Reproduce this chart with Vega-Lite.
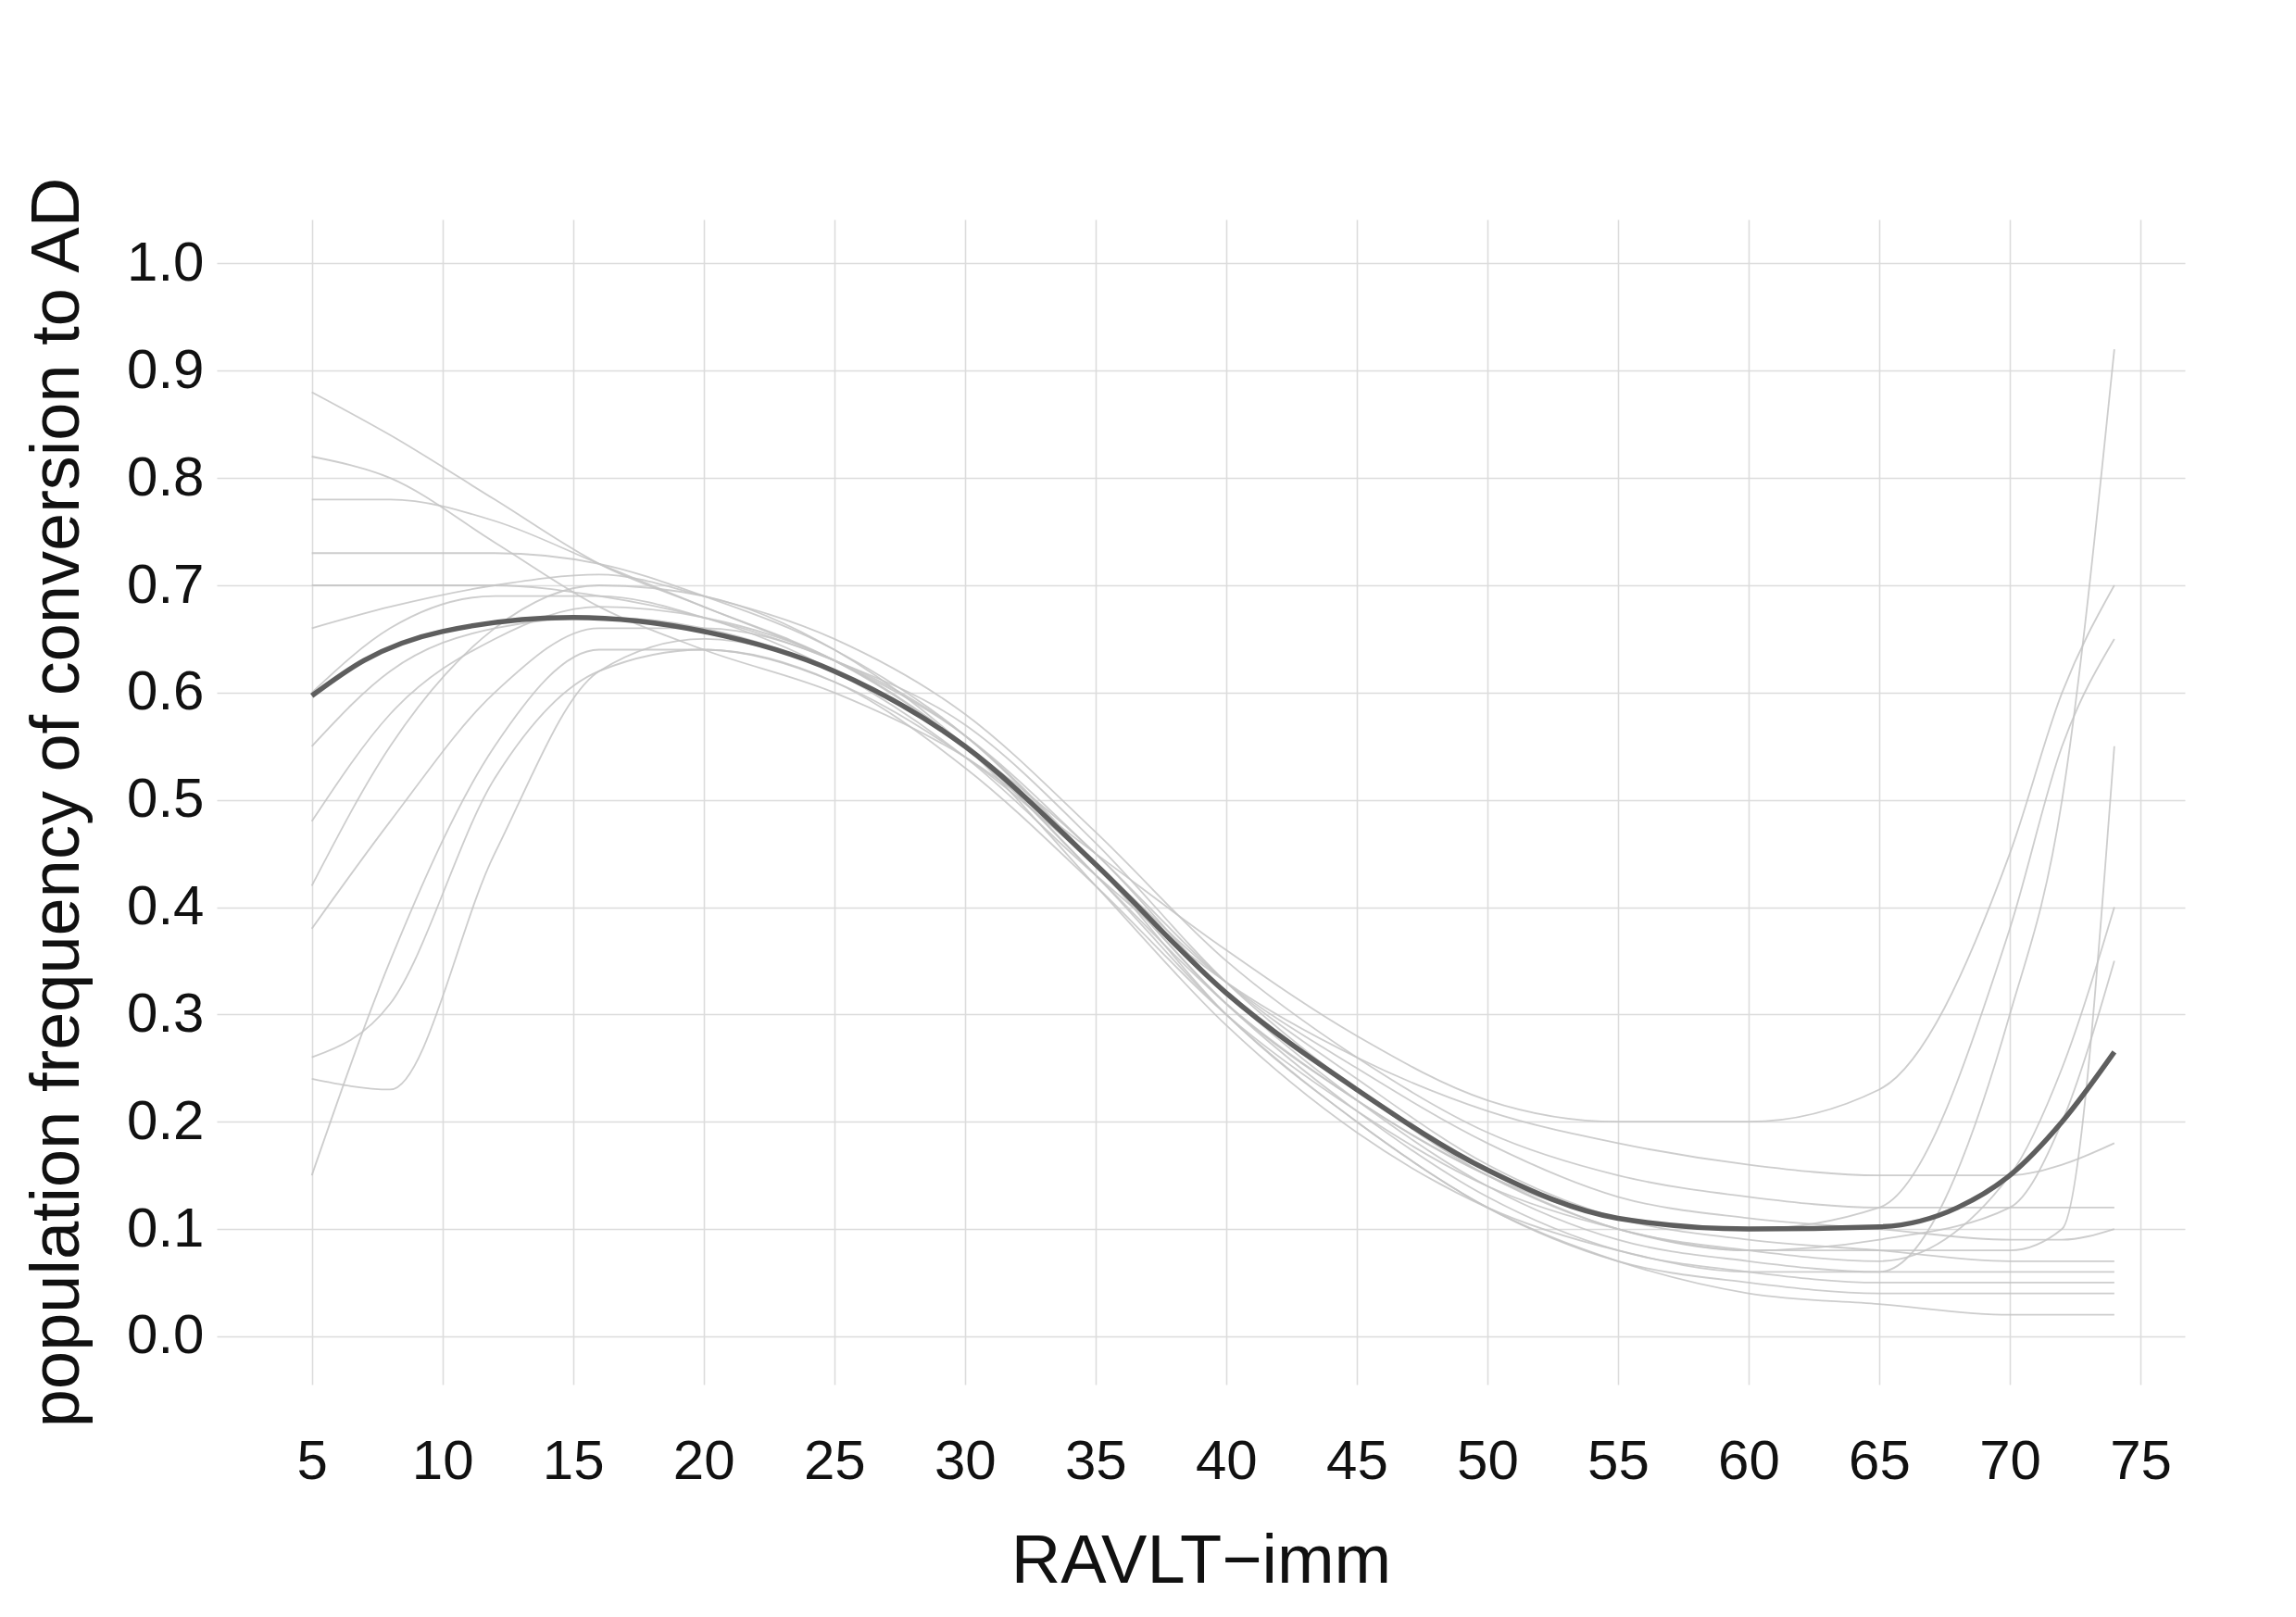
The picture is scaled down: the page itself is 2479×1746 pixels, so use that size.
{
  "$schema": "https://vega.github.io/schema/vega-lite/v6.json",
  "width": 2125,
  "height": 1258,
  "autosize": "none",
  "padding": {"left": 234, "top": 237, "right": 120, "bottom": 251},
  "background": "white",
  "config": {
    "view": {"stroke": null},
    "axis": {"gridColor": "#dcdcdc", "gridWidth": 1.6, "domain": false, "ticks": false, "labelFont": "Liberation Sans", "titleFont": "Liberation Sans", "labelFontSize": 60, "titleFontSize": 74, "labelColor": "#111111", "titleColor": "#111111", "titleFontWeight": "normal"}
  },
  "datasets": {
    "boot": [
      {"c":1,"x":5,"y":0.88},{"c":1,"x":8,"y":0.84},{"c":1,"x":12,"y":0.78},{"c":1,"x":16,"y":0.72},{"c":1,"x":20,"y":0.68},{"c":1,"x":25,"y":0.63},{"c":1,"x":30,"y":0.56},{"c":1,"x":35,"y":0.45},{"c":1,"x":40,"y":0.33},{"c":1,"x":45,"y":0.24},{"c":1,"x":50,"y":0.16},{"c":1,"x":55,"y":0.11},{"c":1,"x":60,"y":0.09},{"c":1,"x":65,"y":0.08},{"c":1,"x":70,"y":0.07},{"c":1,"x":72,"y":0.07},{"c":1,"x":74,"y":0.07},
      {"c":2,"x":5,"y":0.15},{"c":2,"x":8,"y":0.35},{"c":2,"x":12,"y":0.55},{"c":2,"x":16,"y":0.64},{"c":2,"x":20,"y":0.64},{"c":2,"x":25,"y":0.61},{"c":2,"x":30,"y":0.54},{"c":2,"x":35,"y":0.44},{"c":2,"x":40,"y":0.33},{"c":2,"x":45,"y":0.25},{"c":2,"x":50,"y":0.18},{"c":2,"x":55,"y":0.13},{"c":2,"x":60,"y":0.11},{"c":2,"x":65,"y":0.10},{"c":2,"x":70,"y":0.09},{"c":2,"x":72,"y":0.09},{"c":2,"x":74,"y":0.10},
      {"c":3,"x":5,"y":0.24},{"c":3,"x":8,"y":0.23},{"c":3,"x":12,"y":0.45},{"c":3,"x":16,"y":0.62},{"c":3,"x":20,"y":0.65},{"c":3,"x":25,"y":0.62},{"c":3,"x":30,"y":0.55},{"c":3,"x":35,"y":0.45},{"c":3,"x":40,"y":0.32},{"c":3,"x":45,"y":0.22},{"c":3,"x":50,"y":0.14},{"c":3,"x":55,"y":0.09},{"c":3,"x":60,"y":0.07},{"c":3,"x":65,"y":0.06},{"c":3,"x":70,"y":0.06},{"c":3,"x":72,"y":0.06},{"c":3,"x":74,"y":0.06},
      {"c":4,"x":5,"y":0.73},{"c":4,"x":8,"y":0.73},{"c":4,"x":12,"y":0.73},{"c":4,"x":16,"y":0.72},{"c":4,"x":20,"y":0.69},{"c":4,"x":25,"y":0.64},{"c":4,"x":30,"y":0.56},{"c":4,"x":35,"y":0.44},{"c":4,"x":40,"y":0.31},{"c":4,"x":45,"y":0.21},{"c":4,"x":50,"y":0.13},{"c":4,"x":55,"y":0.08},{"c":4,"x":60,"y":0.06},{"c":4,"x":65,"y":0.05},{"c":4,"x":70,"y":0.05},{"c":4,"x":72,"y":0.05},{"c":4,"x":74,"y":0.05},
      {"c":5,"x":5,"y":0.42},{"c":5,"x":8,"y":0.55},{"c":5,"x":12,"y":0.66},{"c":5,"x":16,"y":0.70},{"c":5,"x":20,"y":0.69},{"c":5,"x":25,"y":0.64},{"c":5,"x":30,"y":0.55},{"c":5,"x":35,"y":0.42},{"c":5,"x":40,"y":0.29},{"c":5,"x":45,"y":0.19},{"c":5,"x":50,"y":0.12},{"c":5,"x":55,"y":0.08},{"c":5,"x":60,"y":0.06},{"c":5,"x":65,"y":0.06},{"c":5,"x":70,"y":0.30},{"c":5,"x":72,"y":0.50},{"c":5,"x":74,"y":0.92},
      {"c":6,"x":5,"y":0.60},{"c":6,"x":8,"y":0.66},{"c":6,"x":12,"y":0.69},{"c":6,"x":16,"y":0.69},{"c":6,"x":20,"y":0.67},{"c":6,"x":25,"y":0.62},{"c":6,"x":30,"y":0.54},{"c":6,"x":35,"y":0.43},{"c":6,"x":40,"y":0.33},{"c":6,"x":45,"y":0.26},{"c":6,"x":50,"y":0.21},{"c":6,"x":55,"y":0.18},{"c":6,"x":60,"y":0.16},{"c":6,"x":65,"y":0.15},{"c":6,"x":70,"y":0.15},{"c":6,"x":72,"y":0.16},{"c":6,"x":74,"y":0.18},
      {"c":7,"x":5,"y":0.82},{"c":7,"x":8,"y":0.80},{"c":7,"x":12,"y":0.74},{"c":7,"x":16,"y":0.68},{"c":7,"x":20,"y":0.64},{"c":7,"x":25,"y":0.60},{"c":7,"x":30,"y":0.54},{"c":7,"x":35,"y":0.45},{"c":7,"x":40,"y":0.36},{"c":7,"x":45,"y":0.28},{"c":7,"x":50,"y":0.22},{"c":7,"x":55,"y":0.20},{"c":7,"x":60,"y":0.20},{"c":7,"x":65,"y":0.23},{"c":7,"x":70,"y":0.45},{"c":7,"x":72,"y":0.60},{"c":7,"x":74,"y":0.70},
      {"c":8,"x":5,"y":0.38},{"c":8,"x":8,"y":0.48},{"c":8,"x":12,"y":0.60},{"c":8,"x":16,"y":0.66},{"c":8,"x":20,"y":0.66},{"c":8,"x":25,"y":0.63},{"c":8,"x":30,"y":0.56},{"c":8,"x":35,"y":0.44},{"c":8,"x":40,"y":0.30},{"c":8,"x":45,"y":0.20},{"c":8,"x":50,"y":0.12},{"c":8,"x":55,"y":0.07},{"c":8,"x":60,"y":0.05},{"c":8,"x":65,"y":0.04},{"c":8,"x":70,"y":0.04},{"c":8,"x":72,"y":0.04},{"c":8,"x":74,"y":0.04},
      {"c":9,"x":5,"y":0.55},{"c":9,"x":8,"y":0.62},{"c":9,"x":12,"y":0.66},{"c":9,"x":16,"y":0.67},{"c":9,"x":20,"y":0.66},{"c":9,"x":25,"y":0.62},{"c":9,"x":30,"y":0.55},{"c":9,"x":35,"y":0.44},{"c":9,"x":40,"y":0.31},{"c":9,"x":45,"y":0.22},{"c":9,"x":50,"y":0.15},{"c":9,"x":55,"y":0.11},{"c":9,"x":60,"y":0.10},{"c":9,"x":65,"y":0.12},{"c":9,"x":70,"y":0.38},{"c":9,"x":72,"y":0.55},{"c":9,"x":74,"y":0.65},
      {"c":10,"x":5,"y":0.70},{"c":10,"x":8,"y":0.70},{"c":10,"x":12,"y":0.70},{"c":10,"x":16,"y":0.69},{"c":10,"x":20,"y":0.67},{"c":10,"x":25,"y":0.63},{"c":10,"x":30,"y":0.57},{"c":10,"x":35,"y":0.46},{"c":10,"x":40,"y":0.33},{"c":10,"x":45,"y":0.23},{"c":10,"x":50,"y":0.15},{"c":10,"x":55,"y":0.10},{"c":10,"x":60,"y":0.08},{"c":10,"x":65,"y":0.09},{"c":10,"x":70,"y":0.12},{"c":10,"x":72,"y":0.20},{"c":10,"x":74,"y":0.35},
      {"c":11,"x":5,"y":0.26},{"c":11,"x":8,"y":0.31},{"c":11,"x":12,"y":0.52},{"c":11,"x":16,"y":0.62},{"c":11,"x":20,"y":0.64},{"c":11,"x":25,"y":0.61},{"c":11,"x":30,"y":0.53},{"c":11,"x":35,"y":0.42},{"c":11,"x":40,"y":0.30},{"c":11,"x":45,"y":0.21},{"c":11,"x":50,"y":0.14},{"c":11,"x":55,"y":0.10},{"c":11,"x":60,"y":0.08},{"c":11,"x":65,"y":0.08},{"c":11,"x":70,"y":0.08},{"c":11,"x":72,"y":0.10},{"c":11,"x":74,"y":0.55},
      {"c":12,"x":5,"y":0.66},{"c":12,"x":8,"y":0.68},{"c":12,"x":12,"y":0.70},{"c":12,"x":16,"y":0.71},{"c":12,"x":20,"y":0.69},{"c":12,"x":25,"y":0.65},{"c":12,"x":30,"y":0.58},{"c":12,"x":35,"y":0.47},{"c":12,"x":40,"y":0.35},{"c":12,"x":45,"y":0.26},{"c":12,"x":50,"y":0.19},{"c":12,"x":55,"y":0.15},{"c":12,"x":60,"y":0.13},{"c":12,"x":65,"y":0.12},{"c":12,"x":70,"y":0.12},{"c":12,"x":72,"y":0.12},{"c":12,"x":74,"y":0.12},
      {"c":13,"x":5,"y":0.48},{"c":13,"x":8,"y":0.58},{"c":13,"x":12,"y":0.65},{"c":13,"x":16,"y":0.68},{"c":13,"x":20,"y":0.67},{"c":13,"x":25,"y":0.63},{"c":13,"x":30,"y":0.55},{"c":13,"x":35,"y":0.43},{"c":13,"x":40,"y":0.31},{"c":13,"x":45,"y":0.22},{"c":13,"x":50,"y":0.15},{"c":13,"x":55,"y":0.10},{"c":13,"x":60,"y":0.08},{"c":13,"x":65,"y":0.07},{"c":13,"x":70,"y":0.15},{"c":13,"x":72,"y":0.25},{"c":13,"x":74,"y":0.40},
      {"c":14,"x":5,"y":0.78},{"c":14,"x":8,"y":0.78},{"c":14,"x":12,"y":0.76},{"c":14,"x":16,"y":0.72},{"c":14,"x":20,"y":0.68},{"c":14,"x":25,"y":0.63},{"c":14,"x":30,"y":0.55},{"c":14,"x":35,"y":0.43},{"c":14,"x":40,"y":0.30},{"c":14,"x":45,"y":0.20},{"c":14,"x":50,"y":0.12},{"c":14,"x":55,"y":0.07},{"c":14,"x":60,"y":0.04},{"c":14,"x":65,"y":0.03},{"c":14,"x":70,"y":0.02},{"c":14,"x":72,"y":0.02},{"c":14,"x":74,"y":0.02}
    ],
    "mean": [
      {"x":5,"y":0.597},{"x":7,"y":0.63},{"x":10,"y":0.657},{"x":15,"y":0.67},{"x":20,"y":0.657},{"x":25,"y":0.62},{"x":30,"y":0.55},{"x":35,"y":0.44},{"x":40,"y":0.32},{"x":45,"y":0.23},{"x":50,"y":0.155},{"x":55,"y":0.11},{"x":60,"y":0.1},{"x":65,"y":0.102},{"x":68,"y":0.12},{"x":70,"y":0.15},{"x":72,"y":0.2},{"x":74,"y":0.265}
    ]
  },
  "encoding": {
    "x": {"field": "x", "type": "quantitative", "scale": {"domain": [1.36, 76.7], "nice": false, "zero": false}, "axis": {"values": [5,10,15,20,25,30,35,40,45,50,55,60,65,70,75], "title": "RAVLT−imm", "labelPadding": 54, "titlePadding": 42}},
    "y": {"field": "y", "type": "quantitative", "scale": {"domain": [-0.045, 1.041], "nice": false, "zero": false}, "axis": {"values": [0,0.1,0.2,0.3,0.4,0.5,0.6,0.7,0.8,0.9,1.0], "format": ".1f", "title": "population frequency of conversion to AD", "labelPadding": 14, "titlePadding": 36}}
  },
  "layer": [
    {"data": {"name": "boot"}, "mark": {"type": "line", "color": "#c4c4c4", "strokeWidth": 1.8, "opacity": 0.85, "interpolate": "monotone"}, "encoding": {"detail": {"field": "c", "type": "nominal"}}},
    {"data": {"name": "mean"}, "mark": {"type": "line", "color": "#5e5e5e", "strokeWidth": 5.5, "interpolate": "monotone"}, "encoding": {}}
  ]
}
